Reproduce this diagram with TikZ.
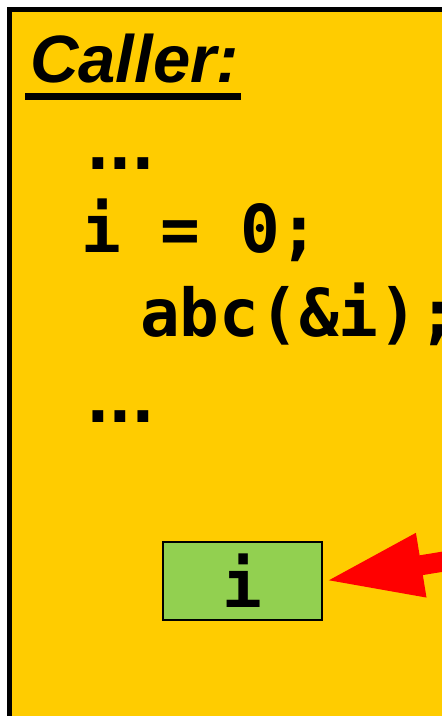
\documentclass[tikz,border=0pt]{standalone}
\usepackage{fontspec}
\usepackage{xcolor}
\usepackage{tikz}
\usetikzlibrary{arrows.meta,positioning,calc}

\newfontfamily\titlefont{Liberation Sans}
\newfontfamily\codefont{DejaVu Sans Mono}

\definecolor{callerbg}{HTML}{FFCC00}
\definecolor{vargreen}{HTML}{92D050}
\definecolor{ptrred}{HTML}{FF0000}

\newcommand{\wdots}{.\kern-17pt.\kern-17pt.}

\begin{document}
\begin{tikzpicture}[
  x=1pt, y=1pt,
  title/.style={anchor=base west, inner sep=0pt, font=\titlefont\bfseries\itshape\fontsize{67}{67}\selectfont},
  code/.style={anchor=base west, inner sep=0pt, font=\codefont\bfseries\fontsize{66}{66}\selectfont},
  varbox/.style={draw, line width=1.5pt, fill=vargreen, minimum width=159pt, minimum height=78pt, inner sep=0pt, outer sep=2.5pt, font=\codefont\bfseries\fontsize{66}{66}\selectfont},
  arr/.style={-{Triangle[length=98pt, width=59pt]}, line width=20pt, ptrred}
]
  \useasboundingbox (0,0) rectangle (442,716);
  \clip (0,0) rectangle (442,716);

  % caller frame, cut off right and below
  \draw[line width=5pt, fill=callerbg] (9.5,706.5) rectangle (480,-40);

  \node[title] (caller) at (30,633) {Caller:};
  \draw[line width=6.5pt] ([xshift=-5pt, yshift=-13.5pt]caller.base west) -- ([xshift=2pt, yshift=-13.5pt]caller.base east);

  \node[code] (dots1) at (78,546) {\wdots};
  \node[code] (init) at (81,463) {i = 0;};
  \node[code] (call) at (140,379) {abc(\&i);};
  \node[code] (dots2) at (78,293) {\wdots};

  \node[varbox] (var) at (242.5,135) {i};

  \coordinate (ptr) at (502,164);
  \draw[arr] (ptr) -- (var.east);
\end{tikzpicture}
\end{document}
